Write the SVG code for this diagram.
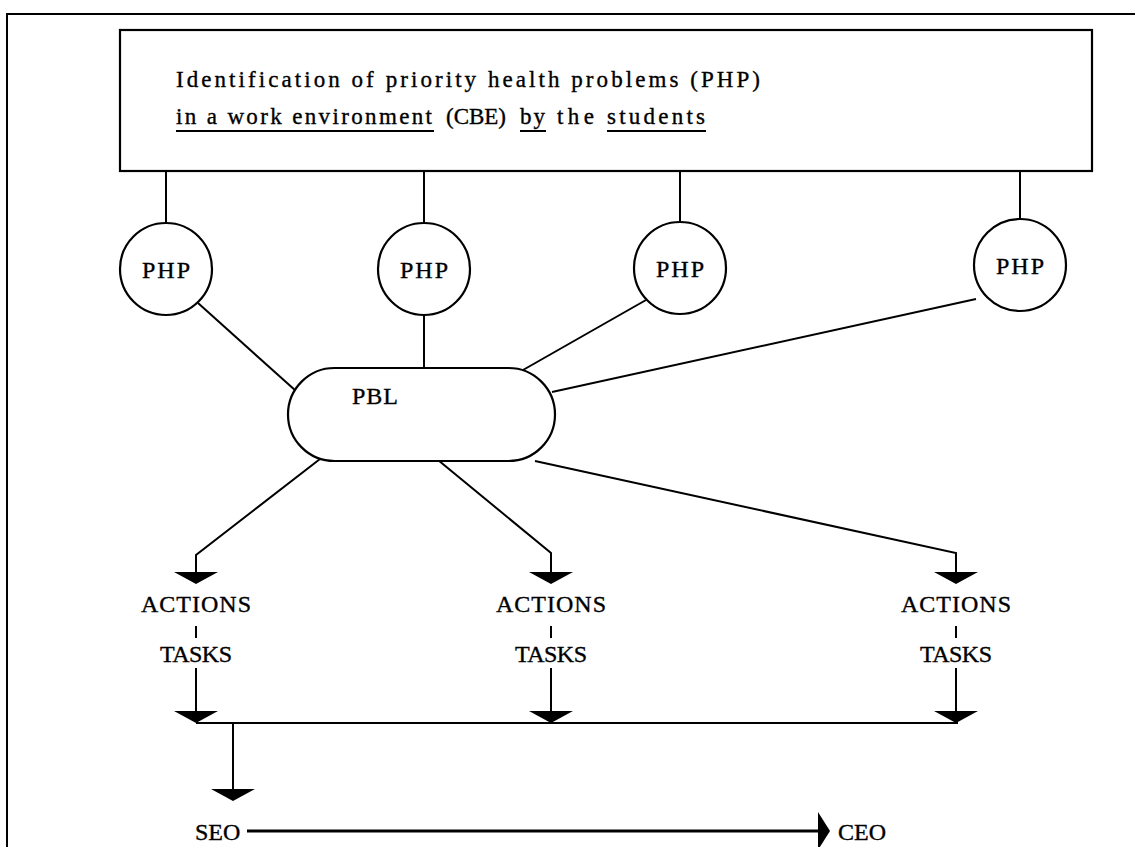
<svg xmlns="http://www.w3.org/2000/svg" width="1135" height="847" viewBox="0 0 1135 847">
<style>
.ln{stroke:#000;stroke-width:2;fill:none}
.nd{stroke:#000;stroke-width:2.2;fill:#fff}
.t{font-family:"Liberation Serif","Times New Roman",serif;fill:#000;stroke:#000;stroke-width:0.35}
.big{font-size:24px}
.ttl{font-size:23px}
.ah{fill:#000;stroke:none}
</style>
<defs>
<polygon id="dn" class="ah" points="-22,0 22,0 0,12"/>
</defs>
<rect x="0" y="0" width="1135" height="847" fill="#fff"/>
<g id="frame">
<line class="ln" x1="6" y1="14" x2="1135" y2="14"/>
<line class="ln" x1="7" y1="14" x2="7" y2="847"/>
</g>
<g id="connectors">
<line class="ln" x1="166" y1="171" x2="166" y2="223"/>
<line class="ln" x1="424" y1="171" x2="424" y2="223"/>
<line class="ln" x1="680" y1="171" x2="680" y2="222"/>
<line class="ln" x1="1020" y1="171" x2="1020" y2="219"/>
<line class="ln" x1="198" y1="303" x2="296" y2="391"/>
<line class="ln" x1="424" y1="316" x2="424" y2="368"/>
<line class="ln" x1="646" y1="300" x2="523" y2="370"/>
<line class="ln" x1="976" y1="299" x2="552" y2="392"/>
<polyline class="ln" points="320,459 196,555 196,572"/>
<polyline class="ln" points="438,460 551,553 551,572"/>
<polyline class="ln" points="535,461 956,553 956,572"/>
<use href="#dn" x="196" y="572"/>
<use href="#dn" x="551" y="572"/>
<use href="#dn" x="956" y="572"/>
<line class="ln" x1="196" y1="626" x2="196" y2="638"/>
<line class="ln" x1="551" y1="626" x2="551" y2="638"/>
<line class="ln" x1="956" y1="626" x2="956" y2="638"/>
<line class="ln" x1="196" y1="668" x2="196" y2="712"/>
<line class="ln" x1="551" y1="668" x2="551" y2="712"/>
<line class="ln" x1="956" y1="668" x2="956" y2="712"/>
<use href="#dn" x="196" y="711"/>
<use href="#dn" x="551" y="711"/>
<use href="#dn" x="956" y="711"/>
<line class="ln" x1="196" y1="723" x2="958" y2="723"/>
<line class="ln" x1="233" y1="723" x2="233" y2="790"/>
<use href="#dn" x="233" y="789"/>
<line x1="247" y1="831" x2="820" y2="831" stroke="#000" stroke-width="3"/>
<polygon class="ah" points="818,812 830,831 818,850"/>
</g>
<g id="top-box">
<rect class="nd" x="120" y="30" width="972" height="141" stroke-width="2.5"/>
<text class="t ttl" x="176" y="87" textLength="584" lengthAdjust="spacing">Identification of priority health problems (PHP)</text>
<text class="t ttl" x="176" y="124" textLength="256" lengthAdjust="spacing">in a work environment</text>
<text class="t ttl" x="446" y="124" textLength="60" lengthAdjust="spacing">(CBE)</text>
<text class="t ttl" x="520" y="124" textLength="25" lengthAdjust="spacing">by</text>
<text class="t ttl" x="557" y="124" textLength="37" lengthAdjust="spacing">the</text>
<text class="t ttl" x="607" y="124" textLength="98" lengthAdjust="spacing">students</text>
<line class="ln" x1="176" y1="131" x2="434" y2="131"/>
<line class="ln" x1="520" y1="131" x2="546" y2="131"/>
<line class="ln" x1="607" y1="131" x2="706" y2="131"/>
</g>
<g id="php1"><circle class="nd" cx="166" cy="269" r="46"/><text class="t big" x="142" y="278" textLength="48" lengthAdjust="spacing">PHP</text></g>
<g id="php2"><circle class="nd" cx="424" cy="269" r="46"/><text class="t big" x="400" y="278" textLength="48" lengthAdjust="spacing">PHP</text></g>
<g id="php3"><circle class="nd" cx="680" cy="268" r="46"/><text class="t big" x="656" y="277" textLength="48" lengthAdjust="spacing">PHP</text></g>
<g id="php4"><circle class="nd" cx="1020" cy="265" r="46"/><text class="t big" x="996" y="274" textLength="48" lengthAdjust="spacing">PHP</text></g>
<g id="pbl"><rect class="nd" x="288" y="368" width="267" height="93" rx="46.5"/><text class="t big" x="352" y="404" textLength="46" lengthAdjust="spacing">PBL</text></g>
<g id="act1"><text class="t big" x="141" y="612" textLength="110" lengthAdjust="spacing">ACTIONS</text><text class="t big" x="160" y="662" textLength="72" lengthAdjust="spacing">TASKS</text></g>
<g id="act2"><text class="t big" x="496" y="612" textLength="110" lengthAdjust="spacing">ACTIONS</text><text class="t big" x="515" y="662" textLength="72" lengthAdjust="spacing">TASKS</text></g>
<g id="act3"><text class="t big" x="901" y="612" textLength="110" lengthAdjust="spacing">ACTIONS</text><text class="t big" x="920" y="662" textLength="72" lengthAdjust="spacing">TASKS</text></g>
<g id="seo"><text class="t big" x="195" y="840">SEO</text></g>
<g id="ceo"><text class="t big" x="838" y="840">CEO</text></g>
</svg>
